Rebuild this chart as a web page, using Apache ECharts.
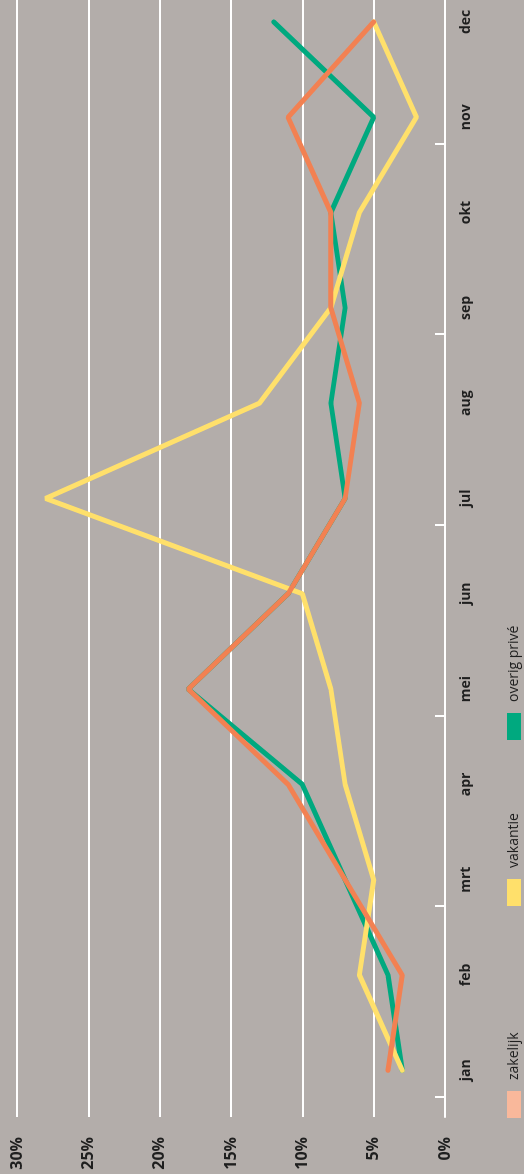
<!DOCTYPE html>
<html>
<head>
<meta charset="utf-8">
<title>ritten per maand</title>
<script src="https://cdn.jsdelivr.net/npm/echarts@6.0.0/dist/echarts.min.js"></script>
<style>
  html, body { margin: 0; padding: 0; width: 524px; height: 1174px; overflow: hidden; background: #b3adaa; }
  /* chart is drawn lying down, then turned a quarter to the left */
  .line {
    position: absolute; left: 0; top: 0;
    width: 1174px; height: 524px;
    transform-origin: 0 0;
    transform: translate(0, 1174px) rotate(-90deg);
  }
</style>
</head>
<body>
<div class="line"></div>
<script>
// maanden
const months = ['jan', 'feb', 'mrt', 'apr', 'mei', 'jun', 'jul', 'aug', 'sep', 'okt', 'nov', 'dec'];
// aandeel per maand (%)
const zakelijk = [4, 3, 7, 11, 18, 11, 7, 6, 8, 8, 11, 5];
const vakantie = [3, 6, 5, 7, 8, 10, 28, 13, 8, 6, 2, 5];
const overigPrive = [3, 4, 7, 10, 18, 11, 7, 8, 7, 8, 5, 12];
const seriesNames = ['zakelijk', 'vakantie', 'overig privé'];

window.onload = function () {
  renderLine();

  function renderLine() {
    const myChart = echarts.init(document.querySelector('.line'));
    const toPoints = (arr) => arr.map((v, i) => [i, v]);
    const font = '"Open Sans", "Noto Sans", sans-serif';
    const legendText = { fontSize: 14, color: '#1f1f1f', fontFamily: font, padding: [0, 0, 0, 6] };

    function legendAt(left, name, color) {
      return {
        left: left,
        top: 507,
        padding: 0,
        itemWidth: 27,
        itemHeight: 14,
        icon: 'rect',
        selectedMode: false,
        itemStyle: { borderWidth: 0 },
        textStyle: legendText,
        data: [{ name: name, itemStyle: { color: color, borderWidth: 0 } }]
      };
    }

    let option = {
      backgroundColor: '#b3adaa',
      animation: false,
      grid: {
        left: 57,
        right: 0,
        top: 17,
        bottom: 79
      },
      legend: [
        legendAt(56, seriesNames[0], '#f9b89b'),
        legendAt(268, seriesNames[1], '#ffe06b'),
        legendAt(434, seriesNames[2], '#00a97f')
      ],
      xAxis: {
        type: 'value',
        min: -0.49,
        max: 11.23,
        axisLine: { lineStyle: { color: '#ffffff', width: 2 } },
        axisTick: {
          inside: true,
          length: 10,
          customValues: [-0.28, 1.72, 3.72, 5.72, 7.72, 9.72],
          lineStyle: { color: '#ffffff', width: 2 }
        },
        axisLabel: {
          customValues: months.map((m, i) => i),
          formatter: (v) => months[Math.round(v)],
          margin: 14,
          fontSize: 14,
          fontWeight: 'bold',
          color: '#1f1f1f',
          fontFamily: font
        },
        splitLine: { show: false }
      },
      yAxis: {
        type: 'value',
        min: 0,
        max: 30,
        interval: 5,
        axisLine: { show: false },
        axisTick: { show: false },
        axisLabel: {
          formatter: '{value}%',
          margin: 20,
          fontSize: 16,
          fontWeight: 'bold',
          color: '#1f1f1f',
          fontFamily: font
        },
        splitLine: { lineStyle: { color: '#ffffff', width: 2 } }
      },
      // groen onderaan, oranje bovenop
      series: [
        {
          name: seriesNames[2],
          type: 'line',
          showSymbol: false,
          data: toPoints(overigPrive),
          itemStyle: { color: '#00a97f' },
          lineStyle: { color: '#00a97f', width: 5, cap: 'round' }
        },
        {
          name: seriesNames[1],
          type: 'line',
          showSymbol: false,
          data: toPoints(vakantie),
          itemStyle: { color: '#ffe06b' },
          lineStyle: { color: '#ffe06b', width: 5, cap: 'round' }
        },
        {
          name: seriesNames[0],
          type: 'line',
          showSymbol: false,
          data: toPoints(zakelijk),
          itemStyle: { color: '#f9b89b' },
          lineStyle: { color: '#f28152', width: 5, cap: 'round' }
        }
      ]
    };
    myChart.setOption(option);
  }
};
</script>
</body>
</html>
